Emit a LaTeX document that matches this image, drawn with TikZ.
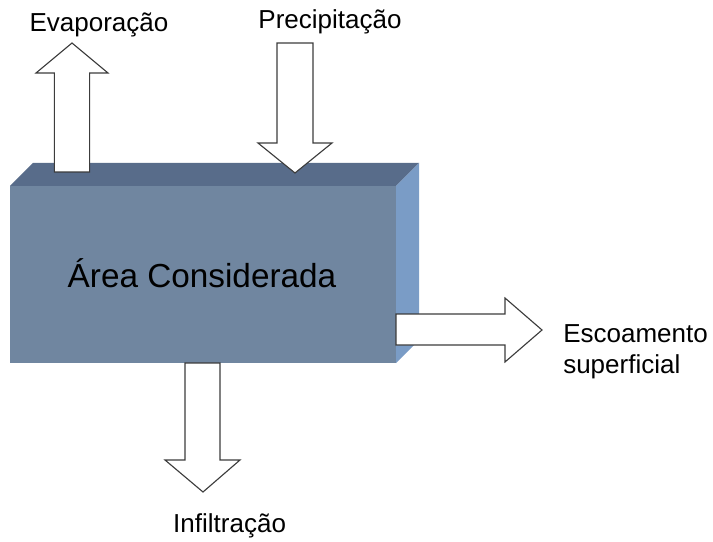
\documentclass[tikz,border=0pt]{standalone}
\usepackage{fontspec}
\setmainfont{Liberation Sans}
\usetikzlibrary{calc}

\definecolor{frontface}{RGB}{112,134,160}
\definecolor{topface}{RGB}{88,108,138}
\definecolor{sideface}{RGB}{122,156,198}
\definecolor{arrowline}{RGB}{60,60,60}

\begin{document}
\begin{tikzpicture}
		% Styles
		\tikzset{
			front/.style={fill=frontface},
			topside/.style={fill=topface},
			rightside/.style={fill=sideface},
			flow/.style={fill=white, draw=arrowline, line width=0.8pt, line join=miter},
			label/.style={font=\fontsize{18.5}{22.5}\selectfont, inner sep=0pt}
		}
		\useasboundingbox (0,0) rectangle (17.825,13.525);

		% Box coordinates (front face)
		\coordinate (F1) at (0.25, 4.45);
		\coordinate (F2) at (9.9, 4.45);
		\coordinate (F3) at (9.9, 8.875);
		\coordinate (F4) at (0.25, 8.875);

		% Draw box
		\fill[front] (F1) rectangle (F3);
		\fill[topside] (F4) -- (F3) -- ($(F3)+(0.575,0.575)$) -- ($(F4)+(0.575,0.575)$) -- cycle;
		\fill[rightside] (F2) -- (F3) -- ($(F3)+(0.575,0.575)$) -- ($(F2)+(0.575,0.575)$) -- cycle;
		\node[font=\fontsize{23.7}{28}\selectfont, anchor=base, inner sep=0pt] (area) at (5.05, 6.35) {Área Considerada};

		% Evaporation (up)
		\draw[flow] (1.36, 9.225) -- (1.36, 11.7) -- (0.9, 11.7) -- (1.8, 12.45) -- (2.7, 11.7) -- (2.24, 11.7) -- (2.24, 9.225) -- cycle;
		\node[label, anchor=base] (evap) at (2.475, 12.725) {Evaporação};

		% Precipitation (down)
		\draw[flow] (6.925, 12.45) -- (7.825, 12.45) -- (7.825, 9.95) -- (8.3, 9.95) -- (7.375, 9.2) -- (6.45, 9.95) -- (6.925, 9.95) -- cycle;
		\node[label, anchor=base] (prec) at (8.25, 12.8) {Precipitação};

		% Surface runoff (right)
		\draw[flow] (9.9, 5.675) -- (12.625, 5.675) -- (12.625, 6.075) -- (13.55, 5.275) -- (12.625, 4.475) -- (12.625, 4.9) -- (9.9, 4.9) -- cycle;
		\node[label, anchor=west, align=left] (runoff) at (14.075, 4.735) {Escoamento\\superficial};

		% Infiltration (down)
		\draw[flow] (4.625, 4.45) -- (4.625, 2.025) -- (4.125, 2.025) -- (5.075, 1.225) -- (6.0, 2.025) -- (5.5, 2.025) -- (5.5, 4.45) -- cycle;
		\node[label, anchor=base] (infil) at (5.74, 0.225) {Infiltração};

	\end{tikzpicture}
\end{document}
